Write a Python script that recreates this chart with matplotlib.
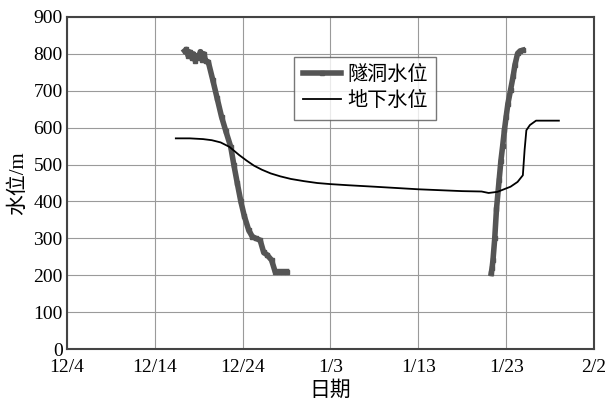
import matplotlib
matplotlib.use("Agg")
import matplotlib.pyplot as plt

plt.rcParams['font.family'] = ['Liberation Serif', 'Noto Sans CJK SC']
plt.rcParams['axes.unicode_minus'] = False

# --- Data (x = days after 12/4) ---
tick_days = [0, 10, 20, 30, 40, 50, 60]
tick_labels = ['12/4', '12/14', '12/24', '1/3', '1/13', '1/23', '2/2']

# tunnel water level, first drop
tunnel1_day = [13.4, 13.6, 13.8, 14.0, 14.2, 14.4, 14.6, 14.8, 15.0, 15.2, 15.4, 15.6,
               15.8, 16.1, 16.6, 17.1, 17.6, 18.1, 18.65, 19.0, 19.4, 19.8, 20.2,
               20.7, 21.1, 21.5, 22.0, 22.4, 22.8, 23.3, 23.7, 24.2, 24.6, 25.0]
tunnel1_val = [808, 812, 795, 805, 790, 800, 782, 795, 788, 806, 784, 800,
               780, 778, 730, 680, 630, 590, 548, 500, 449, 400, 360,
               322, 305, 300, 295, 262, 255, 241, 210, 210, 210, 210]

# tunnel water level, second rise
tunnel2_day = [48.3, 48.4, 48.5, 48.7, 48.9, 49.2, 49.4, 49.6, 49.8, 50.0, 50.2, 50.5,
               50.8, 51.0, 51.3, 51.6, 51.9]
tunnel2_val = [205, 220, 241, 300, 380, 458, 510, 550, 593, 630, 665, 702,
               740, 770, 801, 808, 810]

# groundwater level
ground_day = [12.4, 14.0, 15.5, 16.5, 17.5, 18.5, 19.6, 20.5, 21.3, 22.2, 23.2, 24.3,
              25.5, 27.0, 28.5, 30.0, 32.0, 35.0, 40.0, 45.0, 47.2, 48.0, 49.0, 50.5,
              51.3, 51.9, 52.1, 52.3, 52.7, 53.4, 56.0]
ground_val = [571, 571, 569, 566, 560, 548, 526, 510, 497, 486, 476, 468,
              461, 455, 450, 447, 444, 440, 433, 428, 427, 423, 426, 440,
              453, 471, 540, 593, 607, 619, 619]

fig, ax = plt.subplots(figsize=(6.08, 4.04), dpi=100)
fig.subplots_adjust(left=0.11, right=0.977, top=0.958, bottom=0.136)

ax.plot(tunnel1_day, tunnel1_val, color='#555555', lw=4, marker='s', ms=3,
        label='隧洞水位', zorder=4)
ax.plot(tunnel2_day, tunnel2_val, color='#555555', lw=4, marker='s', ms=3, zorder=4)
ax.plot(ground_day, ground_val, color='black', lw=1.3, label='地下水位', zorder=5)

ax.set_xlim(0, 60)
ax.set_ylim(0, 900)
ax.set_xticks(tick_days)
ax.set_xticklabels(tick_labels)
ax.set_yticks(range(0, 901, 100))
ax.tick_params(labelsize=14, length=0)
ax.tick_params(axis='x', pad=7)
ax.tick_params(axis='y', pad=3)
ax.grid(True, color='#9a9a9a', lw=0.8)
ax.set_axisbelow(True)
for s in ax.spines.values():
    s.set_color('#444444')
    s.set_linewidth(1.5)

ax.set_xlabel('日期', fontsize=15, labelpad=4)
ax.set_ylabel('水位/m', fontsize=15, labelpad=4)

leg = ax.legend(loc='upper left', bbox_to_anchor=(0.43, 0.88), fontsize=14.5,
                frameon=True, fancybox=False, handlelength=1.9, handletextpad=0.3,
                borderpad=0.45, labelspacing=0.35, borderaxespad=0)
leg.get_frame().set_edgecolor('#555555')
leg.get_frame().set_linewidth(1.0)

plt.savefig('out.png', dpi=100)
